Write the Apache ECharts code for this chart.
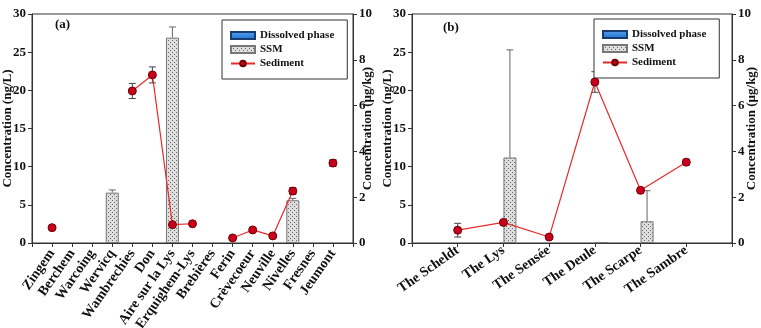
<!DOCTYPE html>
<html>
<head>
<meta charset="utf-8">
<script src="https://cdn.jsdelivr.net/npm/echarts@6/dist/echarts.min.js"></script>
<style>
  html, body { margin: 0; padding: 0; background: #fff; }
  #chart { width: 761px; height: 328px; }
</style>
</head>
<body>
<div id="chart"></div>
<script>
// panel (a): sampling sites
var sitesA = ['Zingem', 'Berchem', 'Warcoing', 'Wervicq', 'Wambrechies', 'Don', 'Aire sur la Lys',
  'Erquighem-Lys', 'Brebières', 'Ferin', 'Crèvecoeur', 'Neuville', 'Nivelles', 'Fresnes', 'Jeumont'];
var dissolvedA = [null, null, null, null, null, null, null, null, null, null, null, null, null, null, null];
var ssmA = [null, null, null, 6.6, null, null, 26.9, null, null, null, null, null, 5.6, null, null];
var ssmErrA = [null, null, null, 0.35, null, null, 1.4, null, null, null, null, null, 0.25, null, null];
var sedimentA = [0.67, null, null, null, 6.64, 7.34, 0.8, 0.84, null, 0.22, 0.57, 0.31, 2.27, null, 3.49];
var sedimentErrA = [null, null, null, null, 0.33, 0.35, null, null, null, null, null, null, 0.15, null, 0.15];

// panel (b): rivers
var riversB = ['The Scheldt', 'The Lys', 'The Sensée', 'The Deule', 'The Scarpe', 'The Sambre'];
var dissolvedB = [null, null, null, null, null, null];
var ssmB = [null, 11.2, null, 0.1, 2.85, null];
var ssmErrB = [null, 14.1, null, null, 4.0, null];
var sedimentB = [0.56, 0.9, 0.26, 7.03, 2.3, 3.53];
var sedimentErrB = [0.3, null, null, 0.45, 0.1, 0.12];

// axis ranges
var leftAxis = { min: 0, max: 30, interval: 5 };
var rightAxis = { min: 0, max: 10, interval: 2 };

var FONT = 'Liberation Serif';
var AXIS_COLOR = '#333';

function dotPattern() {
  var c = document.createElement('canvas');
  c.width = 4; c.height = 4;
  var g = c.getContext('2d');
  g.fillStyle = '#dedede';
  g.fillRect(0, 0, 4, 4);
  g.fillStyle = '#666';
  g.fillRect(0, 0, 1, 1);
  g.fillRect(2, 2, 1, 1);
  return c;
}
var ssmFill = { image: dotPattern(), repeat: 'repeat' };
var dissolvedFill = new echarts.graphic.LinearGradient(0, 0, 0, 1, [
  { offset: 0, color: '#5aa6f0' }, { offset: 1, color: '#1f6fd0' }
]);

function pairs(vals) {
  return vals.map(function (v, i) { return [i + 1, v == null ? '-' : v]; });
}

function errorBars(vals, errs, xi, yi, offset, topOnly, color, z) {
  var data = [];
  vals.forEach(function (v, i) {
    if (v != null && errs[i] != null) {
      data.push([i + 1, topOnly ? v : v - errs[i], v + errs[i]]);
    }
  });
  return {
    type: 'custom',
    xAxisIndex: xi,
    yAxisIndex: yi,
    z: z,
    silent: true,
    encode: { x: 0, y: [1, 2] },
    data: data,
    renderItem: function (params, api) {
      var lo = api.coord([api.value(0), api.value(1)]);
      var hi = api.coord([api.value(0), api.value(2)]);
      var x = lo[0] + offset, w = 3.5;
      var st = { stroke: color, lineWidth: 1 };
      var kids = [
        { type: 'line', shape: { x1: x, y1: lo[1], x2: x, y2: hi[1] }, style: st },
        { type: 'line', shape: { x1: x - w, y1: hi[1], x2: x + w, y2: hi[1] }, style: st }
      ];
      if (!topOnly) {
        kids.push({ type: 'line', shape: { x1: x - w, y1: lo[1], x2: x + w, y2: lo[1] }, style: st });
      }
      return { type: 'group', children: kids };
    }
  };
}

function xAxisFor(gridIndex, names, rotate, size, margin) {
  return {
    type: 'value',
    gridIndex: gridIndex,
    min: 0,
    max: names.length + 1,
    interval: 1,
    splitLine: { show: false },
    axisLine: { lineStyle: { color: AXIS_COLOR } },
    axisTick: { length: 4, lineStyle: { color: AXIS_COLOR } },
    axisLabel: {
      rotate: rotate,
      margin: margin,
      fontFamily: FONT,
      fontWeight: 'bold',
      fontSize: size,
      color: '#111',
      formatter: function (v) { return names[v - 1] || ''; }
    }
  };
}

function yAxisFor(gridIndex, range, side, name, gap) {
  return {
    type: 'value',
    gridIndex: gridIndex,
    position: side,
    min: range.min,
    max: range.max,
    interval: range.interval,
    name: name,
    nameLocation: 'middle',
    nameRotate: 90,
    nameGap: gap,
    nameMoveOverlap: false,
    nameTextStyle: { fontFamily: FONT, fontWeight: 'bold', fontSize: 13, color: '#111' },
    splitLine: { show: false },
    axisLine: { show: true, lineStyle: { color: AXIS_COLOR } },
    axisTick: { show: true, length: 4, lineStyle: { color: AXIS_COLOR } },
    axisLabel: { fontFamily: FONT, fontWeight: 'bold', fontSize: 13, color: '#111', margin: 6 }
  };
}

function legendAt(left, top) {
  return {
    left: left,
    top: top,
    orient: 'vertical',
    backgroundColor: '#fff',
    borderColor: '#333',
    borderWidth: 1,
    padding: [9, 13, 9, 8],
    itemWidth: 24,
    itemHeight: 7,
    itemGap: 1,
    selectedMode: false,
    textStyle: { fontFamily: FONT, fontWeight: 'bold', fontSize: 11, lineHeight: 13, color: '#111' },
    data: [
      { name: 'Dissolved phase', icon: 'rect' },
      { name: 'SSM', icon: 'rect' },
      { name: 'Sediment' }
    ]
  };
}

function panelSeries(xi, yl, yr, dissolved, ssm, ssmErr, sediment, sedErr, barGap, ssmOffset) {
  return [
    errorBars(ssm, ssmErr, xi, yl, ssmOffset, true, '#666', 1),
    {
      name: 'Dissolved phase', type: 'bar', xAxisIndex: xi, yAxisIndex: yl, z: 2,
      barWidth: 13, barGap: barGap,
      itemStyle: { color: dissolvedFill, borderColor: '#1a3d70', borderWidth: 1 },
      data: pairs(dissolved)
    },
    {
      name: 'SSM', type: 'bar', xAxisIndex: xi, yAxisIndex: yl, z: 2,
      barWidth: 13, barGap: barGap,
      itemStyle: { color: ssmFill, borderColor: '#777', borderWidth: 1 },
      data: pairs(ssm)
    },
    errorBars(sediment, sedErr, xi, yr, 0, false, '#444', 3),
    {
      name: 'Sediment', type: 'line', xAxisIndex: xi, yAxisIndex: yr, z: 4,
      connectNulls: false, showSymbol: true, showAllSymbol: true,
      symbol: 'circle', symbolSize: 8,
      lineStyle: { color: '#e82a2a', width: 1.2 },
      itemStyle: { color: '#c8001e', borderColor: '#6e0000', borderWidth: 1 },
      data: pairs(sediment)
    }
  ];
}

var chart = echarts.init(document.getElementById('chart'), null, { renderer: 'canvas' });

var option = {
  animation: false,
  backgroundColor: '#fff',
  grid: [
    { left: 32, top: 14, width: 321, height: 229, outerBoundsMode: 'none', containLabel: false,
      show: true, borderColor: AXIS_COLOR, borderWidth: 1 },
    { left: 412, top: 14, width: 320, height: 229, outerBoundsMode: 'none', containLabel: false,
      show: true, borderColor: AXIS_COLOR, borderWidth: 1 }
  ],
  xAxis: [
    xAxisFor(0, sitesA, 55, 14, 8),
    xAxisFor(1, riversB, 35, 14, 6)
  ],
  yAxis: [
    yAxisFor(0, leftAxis, 'left', 'Concentration (ng/L)', 18),
    yAxisFor(0, rightAxis, 'right', 'Concentration (µg/kg)', 8),
    yAxisFor(1, leftAxis, 'left', 'Concentration (ng/L)', 18),
    yAxisFor(1, rightAxis, 'right', 'Concentration (µg/kg)', 13)
  ],
  legend: [legendAt(222, 20), legendAt(594, 19)],
  graphic: [
    { type: 'text', left: 55, top: 18, style: { text: '(a)', font: 'bold 13px "Liberation Serif"', fill: '#111' } },
    { type: 'text', left: 443, top: 21, style: { text: '(b)', font: 'bold 13px "Liberation Serif"', fill: '#111' } }
  ],
  series: [].concat(
    panelSeries(0, 0, 1, dissolvedA, ssmA, ssmErrA, sedimentA, sedimentErrA, '-100%', 0),
    panelSeries(1, 2, 3, dissolvedB, ssmB, ssmErrB, sedimentB, sedimentErrB, '0%', 6.5)
  )
};

chart.setOption(option);
</script>
</body>
</html>
